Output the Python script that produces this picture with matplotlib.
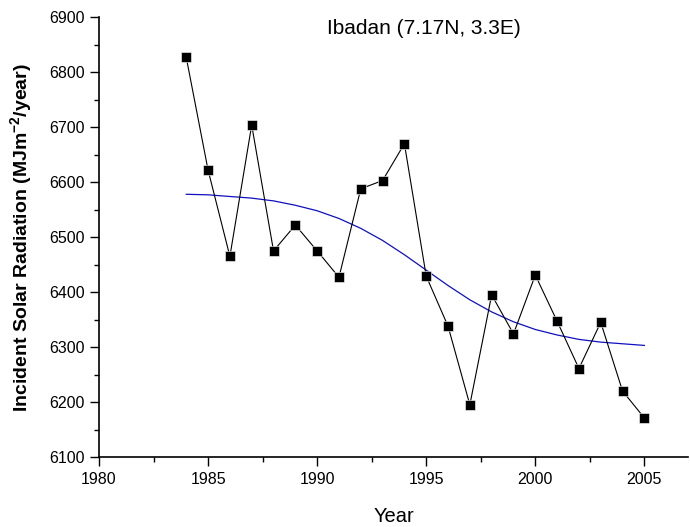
import matplotlib
matplotlib.use("Agg")
import matplotlib.pyplot as plt
from matplotlib.ticker import MultipleLocator

plt.rcParams['font.family'] = ['Liberation Sans', 'DejaVu Sans']
plt.rcParams['mathtext.fontset'] = 'custom'
plt.rcParams['mathtext.rm'] = 'Liberation Sans'
plt.rcParams['mathtext.bf'] = 'Liberation Sans:bold'

years = list(range(1984, 2006))
radiation = [6827, 6622, 6465, 6704, 6475, 6522, 6475, 6427, 6588, 6603, 6670,
             6429, 6338, 6195, 6395, 6324, 6431, 6347, 6261, 6345, 6220, 6171]
fit_curve = [6578, 6577, 6574, 6571, 6566, 6558, 6548, 6534, 6516, 6494, 6468,
             6440, 6412, 6386, 6364, 6346, 6332, 6322, 6314, 6309, 6306, 6303]

fig = plt.figure(figsize=(6.9, 5.27), dpi=100)
ax = fig.add_axes([99/690, 1-457/527, (688-99)/690, (457-17.3)/527])

ax.plot(years, radiation, color='black', lw=0.8, marker='s', markersize=7.8,
        markeredgecolor='white', markeredgewidth=0.4, zorder=3)
ax.plot(years, fit_curve, color='#1010C0', lw=0.9, zorder=2)

ax.set_xlim(1980, 2007.0)
ax.set_ylim(6100, 6900)
ax.xaxis.set_major_locator(MultipleLocator(5))
ax.xaxis.set_minor_locator(MultipleLocator(2.5))
ax.yaxis.set_major_locator(MultipleLocator(100))
ax.yaxis.set_minor_locator(MultipleLocator(50))
for s in ['top', 'right']:
    ax.spines[s].set_visible(False)
for s in ['left', 'bottom']:
    ax.spines[s].set_linewidth(1.2)
ax.tick_params(which='major', direction='out', length=6.5, width=1.0, labelsize=11.5, pad=4)
ax.tick_params(which='minor', direction='out', length=3.5, width=1.0)

ax.set_xlabel('Year', fontsize=14.5, labelpad=15)
ax.set_ylabel(r'Incident Solar Radiation (MJm$^{\mathbf{-2}}$/year)', fontsize=14,
              fontweight='bold', labelpad=10)
ax.text(1994.9, 6880, 'Ibadan (7.17N, 3.3E)', fontsize=15, ha='center', va='center')

fig.savefig('out.png', dpi=100)
